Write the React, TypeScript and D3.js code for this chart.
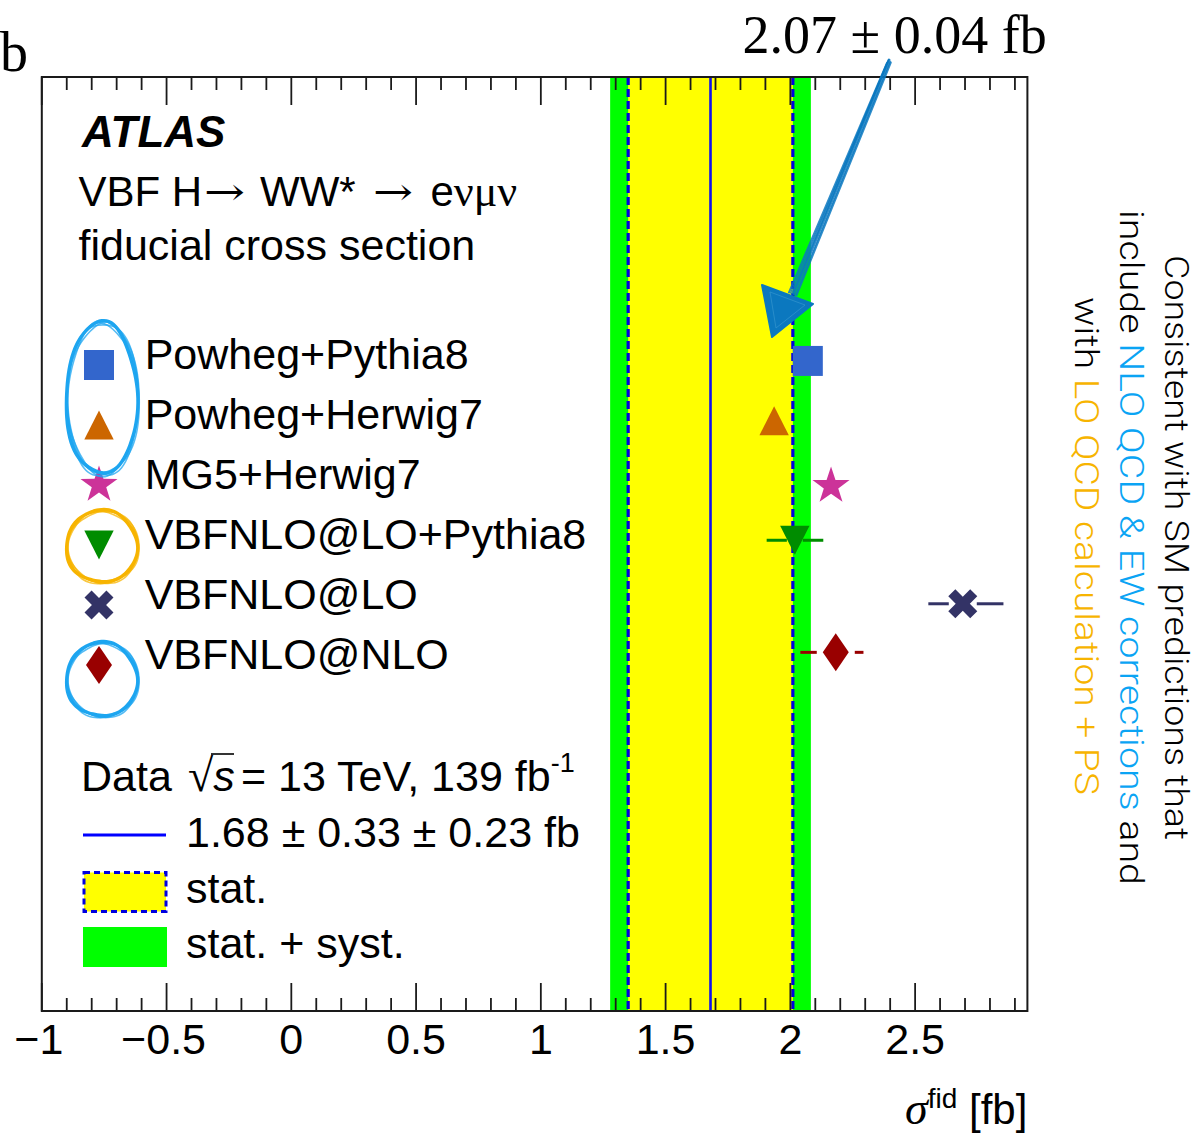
import React from "react";
import * as d3 from "d3";

// ---------------- data ----------------
const modelNames = [
  "Powheg+Pythia8",
  "Powheg+Herwig7",
  "MG5+Herwig7",
  "VBFNLO@LO+Pythia8",
  "VBFNLO@LO",
  "VBFNLO@NLO",
];
const modelValues = [2.07, 1.935, 2.163, 2.018, 2.691, 2.182];
const modelErrLow = [0, 0, 0, 0.113, 0.138, 0.142];
const modelErrHigh = [0, 0, 0, 0.114, 0.163, 0.111];
const modelRows = [69.6, 63.2, 56.2, 50.4, 43.6, 38.4];
const modelColors = ["#3366cc", "#cc6600", "#cc3399", "#008c00", "#333366", "#990000"];
const modelShapes = ["square", "triangleUp", "star", "triangleDown", "cross", "diamond"];

const dataCentral = 1.68;
const dataStat = 0.33;
const dataSyst = 0.23;

const xDomain = [-1, 2.95];
const yDomain = [0, 100];
const xMajorTicks = [-1, -0.5, 0, 0.5, 1, 1.5, 2, 2.5];
const xTickLabels = ["\u22121", "\u22120.5", "0", "0.5", "1", "1.5", "2", "2.5"];

const annotationText = "2.07 \u00b1 0.04 fb";
const dataLabel = "1.68 \u00b1 0.33 \u00b1 0.23 fb";

const sideLine1 = [{ t: "Consistent with SM predictions that", c: "#000" }];
const sideLine2 = [
  { t: "include ", c: "#000" },
  { t: "NLO QCD & EW corrections", c: "#0aa4f4" },
  { t: " and", c: "#000" },
];
const sideLine3 = [
  { t: "with ", c: "#000" },
  { t: "LO QCD calculation + PS", c: "#f7b400" },
];

// ---------------- layout ----------------
const W = 1201;
const H = 1135;
const frame = { left: 41.8, right: 1027.4, top: 77, bottom: 1011 };
const SANS = "'Liberation Sans', Arial, Helvetica, sans-serif";
const SERIF = "'Liberation Serif', 'Times New Roman', serif";

function starPath(R: number, r: number) {
  const pts: [number, number][] = [];
  for (let i = 0; i < 10; i++) {
    const a = -Math.PI / 2 + (i * Math.PI) / 5;
    const rr = i % 2 === 0 ? R : r;
    pts.push([rr * Math.cos(a), rr * Math.sin(a)]);
  }
  return "M" + pts.map((p) => p.join(",")).join("L") + "Z";
}

function crossPath(Lp: number, w: number) {
  const pts: [number, number][] = [
    [w, -Lp], [w, -w], [Lp, -w], [Lp, w], [w, w], [w, Lp],
    [-w, Lp], [-w, w], [-Lp, w], [-Lp, -w], [-w, -w], [-w, -Lp],
  ];
  const c = Math.SQRT1_2;
  const rot = pts.map(([a, b]) => [a * c - b * c, a * c + b * c]);
  return "M" + rot.map((p) => p.join(",")).join("L") + "Z";
}

const shapePaths: Record<string, string> = {
  square: "M-15,-15H15V15H-15Z",
  triangleUp: "M0,-14.5L14.7,14.5L-14.7,14.5Z",
  triangleDown: "M-14.7,-14.5L14.7,-14.5L0,14.5Z",
  star: starPath(19.5, 7.6),
  cross: crossPath(15.5, 5),
  diamond: "M0,-19L13,0L0,19L-13,0Z",
};
const shapeGap: Record<string, number> = {
  square: 15, triangleUp: 8, star: 10, triangleDown: 8, cross: 14, diamond: 19,
};

function sketchEllipse(cx: number, cy: number, rx: number, ry: number, k: number) {
  const n = 48;
  const pts: [number, number][] = [];
  for (let i = 0; i < n; i++) {
    const a = (i / n) * Math.PI * 2;
    const f = 1 + 0.02 * Math.sin(3 * a + k * 1.7) + 0.015 * Math.cos(5 * a + k * 2.3);
    pts.push([cx + rx * f * Math.cos(a) + (k - 2) * 0.5, cy + ry * f * Math.sin(a) + (k % 2 ? 0.7 : -0.7)]);
  }
  return d3.line().curve(d3.curveCatmullRomClosed)(pts) || "";
}

function Ellipse({ cx, cy, rx, ry, color }: any) {
  return (
    <g fill="none" stroke={color} strokeLinecap="round">
      {[0, 1, 2, 3, 4].map((k) => (
        <path key={k} d={sketchEllipse(cx, cy, rx, ry, k)} strokeWidth={k === 0 ? 3.4 : 1.6} opacity={k === 0 ? 1 : 0.75} />
      ))}
    </g>
  );
}

function SideText({ x, cy, parts, len }: any) {
  return (
    <text
      transform={`translate(${x},${cy}) rotate(90)`}
      textAnchor="middle"
      fontFamily="Roboto, 'Liberation Sans', sans-serif"
      fontWeight={300}
      fontSize={33}
      textLength={len}
      lengthAdjust="spacingAndGlyphs"
    >
      {parts.map((p: any, i: number) => (
        <tspan key={i} fill={p.c}>{p.t}</tspan>
      ))}
    </text>
  );
}

export default function App() {
  const x = d3.scaleLinear().domain(xDomain).range([frame.left, frame.right]);
  const y = d3.scaleLinear().domain(yDomain).range([frame.bottom, frame.top]);

  const minorTicks = d3
    .range(-10, 30)
    .map((i) => i / 10)
    .filter((v) => !xMajorTicks.some((m) => Math.abs(m - v) < 1e-6));

  const total = Math.sqrt(dataStat * dataStat + dataSyst * dataSyst);
  const fh = frame.bottom - frame.top;

  const legendX = 99;
  const legendTextX = 144.7;
  const legendBase = 369;
  const legendStep = 60;

  // hand drawn arrow
  const arrowTop: [number, number] = [889, 59];
  const arrowBot: [number, number] = [793, 294];
  const shaftOffsets = [-4, -2.5, -1, 0, 1, 2.5, 3.5];

  return (
    <svg
      width={W}
      height={H}
      viewBox={`0 0 ${W} ${H}`}
      style={{ position: "absolute", left: 0, top: 0, background: "#fff" }}
    >
      <rect x={0} y={0} width={W} height={H} fill="#fff" />

      {/* bands */}
      <rect x={x(dataCentral - total)} y={frame.top} width={x(dataCentral + total) - x(dataCentral - total)} height={fh} fill="#00ff00" />
      <rect x={x(dataCentral - dataStat)} y={frame.top} width={x(dataCentral + dataStat) - x(dataCentral - dataStat)} height={fh} fill="#ffff00" />
      {[dataCentral - dataStat, dataCentral + dataStat].map((v, i) => (
        <line key={i} x1={x(v)} x2={x(v)} y1={frame.top} y2={frame.bottom} stroke="#0000e0" strokeWidth={3.2} strokeDasharray="8,4" />
      ))}
      <line x1={x(dataCentral)} x2={x(dataCentral)} y1={frame.top} y2={frame.bottom} stroke="#1010ee" strokeWidth={2.6} />

      {/* ticks */}
      <g stroke="#1a1a1a" strokeWidth={1.8}>
        {xMajorTicks.map((v) => (
          <g key={"M" + v}>
            <line x1={x(v)} x2={x(v)} y1={frame.top} y2={frame.top + 28} />
            <line x1={x(v)} x2={x(v)} y1={frame.bottom} y2={frame.bottom - 28} />
          </g>
        ))}
        {minorTicks.map((v) => (
          <g key={"m" + v}>
            <line x1={x(v)} x2={x(v)} y1={frame.top} y2={frame.top + 13} />
            <line x1={x(v)} x2={x(v)} y1={frame.bottom} y2={frame.bottom - 13} />
          </g>
        ))}
      </g>
      <rect x={frame.left} y={frame.top} width={frame.right - frame.left} height={fh} fill="none" stroke="#1a1a1a" strokeWidth={2} />

      {/* tick labels */}
      <g fontFamily={SANS} fontSize={43} textAnchor="middle" fill="#000">
        {xMajorTicks.map((v, i) => (
          <text key={v} x={x(v) - (v < 0 ? 3 : 0)} y={1054}>{xTickLabels[i]}</text>
        ))}
      </g>

      {/* axis title */}
      <text x={frame.right} y={1124} textAnchor="end" fontFamily={SANS} fontSize={42}>
        <tspan fontFamily={SERIF} fontStyle="italic" fontSize={46}>σ</tspan>
        <tspan fontSize={28} dy={-16}>fid</tspan>
        <tspan dy={16}> [fb]</tspan>
      </text>

      {/* model points */}
      {modelNames.map((name, i) => {
        const cx = x(modelValues[i]);
        const cy = y(modelRows[i]);
        const gap = shapeGap[modelShapes[i]];
        const lo = x(modelValues[i] - modelErrLow[i]);
        const hi = x(modelValues[i] + modelErrHigh[i]);
        return (
          <g key={name}>
            {modelErrLow[i] > 0 && (
              <line x1={lo} x2={Math.max(lo, cx - gap)} y1={cy} y2={cy} stroke={modelColors[i]} strokeWidth={3} />
            )}
            {modelErrHigh[i] > 0 && (
              <line x1={Math.min(hi, cx + gap)} x2={hi} y1={cy} y2={cy} stroke={modelColors[i]} strokeWidth={3} />
            )}
            <path d={shapePaths[modelShapes[i]]} transform={`translate(${cx},${cy})`} fill={modelColors[i]} />
          </g>
        );
      })}

      {/* titles */}
      <text x={0} y={71} fontFamily={SERIF} fontSize={56}>b</text>
      <text x={742.6} y={53} fontFamily={SERIF} fontSize={54}>{annotationText}</text>
      <text x={82} y={147} fontFamily={SANS} fontSize={44} fontWeight="bold" fontStyle="italic">ATLAS</text>
      <g fontFamily={SANS} fontSize={42}>
        <text x={78.5} y={206}>VBF H</text>
        <text x={204} y={205} fontFamily="'DejaVu Serif', 'DejaVu Sans', serif" fontSize={38} textLength={41} lengthAdjust="spacingAndGlyphs">→</text>
        <text x={260} y={206}>WW*</text>
        <text x={373} y={205} fontFamily="'DejaVu Serif', 'DejaVu Sans', serif" fontSize={38} textLength={40} lengthAdjust="spacingAndGlyphs">→</text>
        <text x={430.5} y={206}>e<tspan fontFamily={SERIF} fontSize={44}>νμν</tspan></text>
        <text x={78.5} y={260} fontSize={43}>fiducial cross section</text>
      </g>

      {/* legend: models */}
      <g fontFamily={SANS} fontSize={43}>
        {modelNames.map((name, i) => {
          const base = legendBase + i * legendStep;
          return (
            <g key={name}>
              <path d={shapePaths[modelShapes[i]]} transform={`translate(${legendX},${base - 4})`} fill={modelColors[i]} />
              <text x={legendTextX} y={base}>{name}</text>
            </g>
          );
        })}
      </g>

      {/* legend: data */}
      <g fontFamily={SANS} fontSize={43}>
        <text y={791}>
          <tspan x={81}>Data</tspan>
          <tspan x={188} fontFamily={SERIF} fontSize={46}>√</tspan>
          <tspan fontStyle="italic">s</tspan>
          <tspan x={241}>= 13 TeV, 139 fb</tspan>
          <tspan fontSize={27} dy={-19}>-1</tspan>
        </text>
        <line x1={211} x2={234} y1={754} y2={754} stroke="#000" strokeWidth={1.6} />
        <line x1={83} x2={166} y1={835} y2={835} stroke="#0000ff" strokeWidth={3} />
        <text x={186} y={847}>{dataLabel}</text>
        <rect x={84} y={872.5} width={82} height={39} fill="#ffff00" stroke="#0000e0" strokeWidth={3} strokeDasharray="6,4" />
        <text x={186} y={903}>stat.</text>
        <rect x={83} y={927} width={84} height={40} fill="#00ff00" />
        <text x={186} y={958}>stat. + syst.</text>
      </g>

      {/* hand-drawn annotations */}
      <Ellipse cx={102.7} cy={399} rx={35.7} ry={76} color="#1ea6f0" />
      <Ellipse cx={102.7} cy={547} rx={35.5} ry={36} color="#f7b400" />
      <Ellipse cx={102.7} cy={680} rx={35.5} ry={37} color="#1ea6f0" />

      <g stroke="#0b78bf" strokeLinecap="round" fill="none">
        {shaftOffsets.map((o, i) => (
          <line
            key={i}
            x1={arrowTop[0] + o * 0.5}
            y1={arrowTop[1] + Math.abs(o)}
            x2={arrowBot[0] + o}
            y2={arrowBot[1] + o * 0.4}
            strokeWidth={i % 2 ? 1.3 : 2}
            opacity={0.85}
          />
        ))}
      </g>
      <path d="M762,285L813,304L772,337Z" fill="#0b78bf" stroke="#0b78bf" strokeWidth={2} strokeLinejoin="round" />
      <path d="M770,292L805,305L776,328Z" fill="none" stroke="#3a9ad0" strokeWidth={1} opacity={0.6} />

      {/* side text */}
      <SideText x={1165} cy={547.5} parts={sideLine1} len={585} />
      <SideText x={1120} cy={547.5} parts={sideLine2} len={675} />
      <SideText x={1075} cy={546} parts={sideLine3} len={498} />
    </svg>
  );
}
